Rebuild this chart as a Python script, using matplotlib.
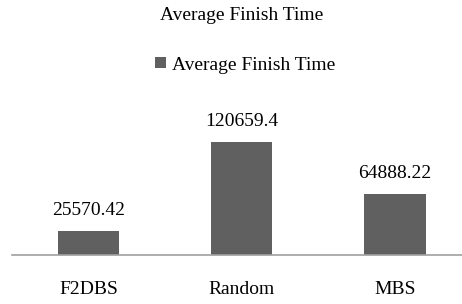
import matplotlib.pyplot as plt

# data
categories = ["F2DBS", "Random", "MBS"]
finish_time = [25570.42, 120659.4, 64888.22]
value_labels = ["25570.42", "120659.4", "64888.22"]

plt.rcParams['font.family'] = ['Liberation Serif', 'DejaVu Serif']

W, H = 462, 304
fig = plt.figure(figsize=(W / 100, H / 100), dpi=100)

# axes placed in pixel coordinates: bottom at y=255, x from 11.75 to 471.75
left, right, bottom, top = 11.75, 471.75, 255, 100
ax = fig.add_axes([left / W, 1 - bottom / H, (right - left) / W, (bottom - top) / H])

bars = ax.bar(categories, finish_time, width=0.4, color='#606060',
              label='Average Finish Time')
ax.set_xlim(-0.5, 2.5)
ax.set_ylim(0, 120659.4 * 155 / 113)

for b, txt in zip(bars, value_labels):
    ax.annotate(txt, (b.get_x() + b.get_width() / 2, b.get_height()),
                xytext=(0, 9), textcoords='offset points',
                ha='center', va='bottom', fontsize=14, color='#000000')

for s in ['top', 'right', 'left']:
    ax.spines[s].set_visible(False)
ax.spines['bottom'].set_color('#a0a0a0')
ax.spines['bottom'].set_linewidth(1.2)
ax.set_yticks([])
ax.tick_params(axis='x', length=0, pad=19, labelsize=14, colors='#000000')

fig.text(242 / W, 1 - 15 / H, 'Average Finish Time', ha='center', va='center',
         fontsize=14, color='#000000')
fig.legend(handles=[bars], labels=['Average Finish Time'], loc='center',
           bbox_to_anchor=(245 / W, 1 - 65 / H), frameon=False, fontsize=14,
           handlelength=0.55, handleheight=0.55, handletextpad=0.3)

fig.savefig('out.png', dpi=100)
